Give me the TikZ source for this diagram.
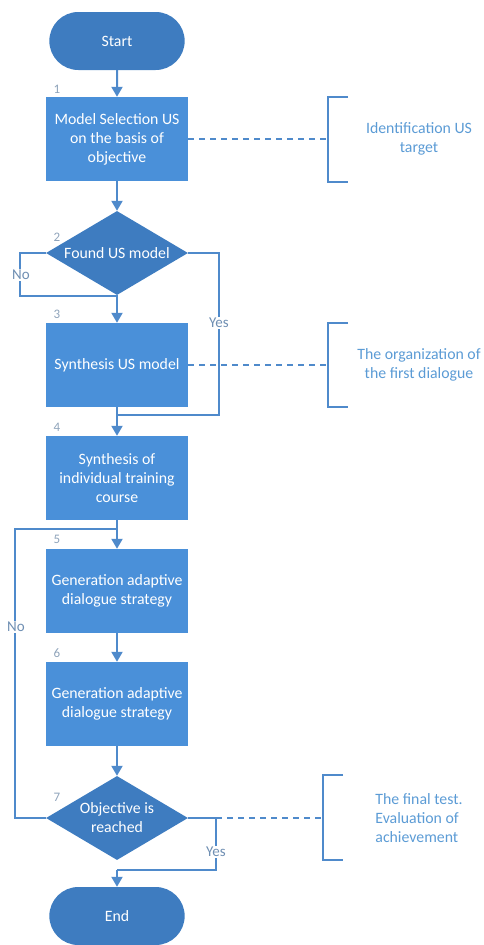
\documentclass[tikz,border=0pt]{standalone}
\usepackage{fontspec}
\setmainfont{Carlito}
\usetikzlibrary{shapes.geometric,shapes.misc,arrows.meta}
\definecolor{boxblue}{HTML}{4A90D9}
\definecolor{darkblue}{HTML}{3E7CC0}
\definecolor{lineblue}{HTML}{4F8ACB}
\definecolor{notetext}{HTML}{5B9BD5}
\definecolor{numgrey}{HTML}{8EA3BA}
\definecolor{lblgrey}{HTML}{6F8FB3}
\tikzset{
  mainfont/.style={font=\fontsize{15.8}{19}\selectfont},
  process/.style={rectangle, fill=boxblue, minimum width=142pt, minimum height=84pt, inner sep=2pt, text=white, align=center, mainfont},
  term/.style={rounded rectangle, fill=darkblue, minimum width=142pt, minimum height=58pt, text=white, mainfont},
  decision/.style={diamond, fill=darkblue, minimum width=142pt, minimum height=84pt, inner sep=0pt},
  dtext/.style={text=white, align=center, mainfont},
  num/.style={text=numgrey, font=\fontsize{13}{15}\selectfont},
  note/.style={text=notetext, align=center, mainfont},
  lbl/.style={text=lblgrey, fill=white, inner sep=1.5pt, font=\fontsize{15}{16}\selectfont},
  conn/.style={draw=lineblue, line width=2pt},
  arr/.style={conn, -{Triangle[width=11pt,length=10pt]}},
  dashline/.style={draw=lineblue, line width=1.6pt, dash pattern=on 6pt off 5pt},
  brk/.style={draw=lineblue, line width=1.6pt},
}
\begin{document}
\begin{tikzpicture}[x=1pt,y=-1pt]
\useasboundingbox (0,0) rectangle (484,945);
% nodes
\node[term] (start) at (117,41) {Start};
\node[process] (b1) at (117,139) {Model Selection US\\on the basis of\\objective};
\node[decision] (d2) at (117,253) {};
\node[dtext] (d2t) at (117,253) {Found US model};
\node[process] (b3) at (117,365) {Synthesis US model};
\node[process] (b4) at (117,478) {Synthesis of\\individual training\\course};
\node[process] (b5) at (117,591) {Generation adaptive\\dialogue strategy};
\node[process] (b6) at (117,704) {Generation adaptive\\dialogue strategy};
\node[decision] (d7) at (117,818) {};
\node[dtext] (d7t) at (117,818) {Objective is\\reached};
\node[term] (end) at (117,916) {End};
% numbers
\node[num] (n1) at (57,89) {1};
\node[num] (n2) at (57,237) {2};
\node[num] (n3) at (57,314) {3};
\node[num] (n4) at (57,427) {4};
\node[num] (n5) at (57,539) {5};
\node[num] (n6) at (57,653) {6};
\node[num] (n7) at (57,797) {7};
% notes
\node[note] (t1) at (419,139) {Identification US\\target};
\node[note] (t3) at (419,365) {The organization of\\the first dialogue};
\node[note, align=left] (t7) at (419,818) {The final test.\\Evaluation of\\achievement};
% coordinates
\coordinate (k1) at (328,139);
\coordinate (k3) at (328,365);
\coordinate (k7) at (323,818);
\coordinate (no2a) at (20,253);
\coordinate (no2b) at (20,296);
\coordinate (no2c) at (117,296);
\coordinate (ye2a) at (219,253);
\coordinate (ye2b) at (219,415);
\coordinate (ye2c) at (117,415);
\coordinate (no7a) at (15,818);
\coordinate (no7b) at (15,529);
\coordinate (no7c) at (117,529);
\coordinate (ye7a) at (216,818);
\coordinate (ye7b) at (216,870);
\coordinate (ye7c) at (117,870);
% main arrows
\draw[arr] (start) -- (b1);
\draw[arr] (b1) -- (d2);
\draw[arr] (d2) -- (b3);
\draw[arr] (b3) -- (b4);
\draw[arr] (b4) -- (b5);
\draw[arr] (b5) -- (b6);
\draw[arr] (b6) -- (d7);
\draw[arr] (ye7c) -- (end.north);
% branches
\draw[conn] (d2.west) -- (no2a) -- (no2b) -- (no2c);
\draw[dashline] (b3.east) -- (k3);
\draw[conn] (d2.east) -- (ye2a) -- (ye2b) -- (ye2c);
\draw[conn] (d7.west) -- (no7a) -- (no7b) -- (no7c);
\draw[conn] (d7.east) -- (ye7a) -- (ye7b) -- (ye7c);
\node[lbl] (l2no) at (21,275) {No};
\node[lbl] (l2yes) at (219,323) {Yes};
\node[lbl] (l7no) at (16,627) {No};
\node[lbl] (l7yes) at (216,852) {Yes};
% dashed links
\draw[dashline] (b1.east) -- (k1);
\draw[dashline] (ye7a) -- (k7);
% brackets
\draw[brk] (348,97) -- (328,97) -- (328,182) -- (348,182);
\draw[brk] (348,323) -- (328,323) -- (328,407) -- (348,407);
\draw[brk] (343,775) -- (323,775) -- (323,860) -- (343,860);
\end{tikzpicture}
\end{document}
